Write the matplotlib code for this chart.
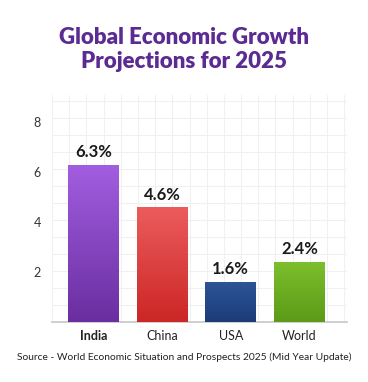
import numpy as np
import matplotlib
matplotlib.use("Agg")
import matplotlib.pyplot as plt
from matplotlib.colors import LinearSegmentedColormap

countries = ["India", "China", "USA", "World"]
growth = [6.3, 4.6, 1.6, 2.4]
value_labels = ["6.3%", "4.6%", "1.6%", "2.4%"]
y_ticks = [2, 4, 6, 8]
top_colors = ["#a25ee0", "#ec5c5c", "#2d5496", "#7cbf2c"]
bottom_colors = ["#6a2ea0", "#cc2626", "#1c3c78", "#5c9a18"]

plt.rcParams['font.family'] = ['Lato', 'DejaVu Sans']

fig = plt.figure(figsize=(3.68, 3.82), dpi=100)
fig.patch.set_facecolor("white")
W, H = 368, 382
left, right, bottom, top = 52, 347, 322, 95
ax = fig.add_axes([left / W, (H - bottom) / H, (right - left) / W, (bottom - top) / H])

ax.set_xlim(-0.587, 3.69)
ax.set_ylim(0, 9.08)

# light grid
ax.set_yticks(np.arange(0, 9.5, 0.68), minor=True)
ax.set_xticks(np.arange(-0.6, 3.8, 0.25), minor=True)
ax.grid(which="minor", color="#f0f0f0", linewidth=0.8)
ax.tick_params(which="minor", length=0)
ax.set_axisbelow(True)

x = np.arange(len(countries))
bars = ax.bar(x, growth, width=0.74, color="none", zorder=2)
grad = np.linspace(1, 0, 256).reshape(-1, 1)
for b, tc, bc in zip(bars, top_colors, bottom_colors):
    cmap = LinearSegmentedColormap.from_list("g", [bc, tc])
    x0, y0 = b.get_x(), b.get_y()
    w, h = b.get_width(), b.get_height()
    im = ax.imshow(grad, cmap=cmap, extent=[x0, x0 + w, y0, y0 + h],
                   aspect="auto", zorder=3, interpolation="bicubic")
    im.set_clip_path(b)

for xi, v, lab in zip(x, growth, value_labels):
    ax.text(xi, v + 0.18, lab, ha="center", va="bottom", fontsize=12,
            fontweight="bold", color="#1a1a1a", zorder=4)

ax.set_xticks(x)
ax.set_xticklabels(countries, fontsize=9, color="#222222")
ax.get_xticklabels()[0].set_fontweight("bold")
ax.set_yticks(y_ticks)
ax.set_yticklabels([str(t) for t in y_ticks], fontsize=9, color="#333333")
ax.tick_params(axis="both", which="major", length=0, pad=6)
ax.tick_params(axis="y", pad=8)

for s in ["top", "right", "left"]:
    ax.spines[s].set_visible(False)
ax.spines["bottom"].set_color("#cccccc")
ax.spines["bottom"].set_linewidth(1.3)

fig.text(0.5, 1 - 37 / H, "Global Economic Growth", ha="center", va="center",
         fontsize=16, fontweight="heavy", color="#5b2b92")
fig.text(0.5, 1 - 62 / H, "Projections for 2025", ha="center", va="center",
         fontsize=16, fontweight="heavy", color="#5b2b92")
fig.text(0.5, 1 - 357 / H,
         "Source - World Economic Situation and Prospects 2025 (Mid Year Update)",
         ha="center", va="center", fontsize=7.4, color="#222222")

fig.savefig("out.png", dpi=100, facecolor="white")
